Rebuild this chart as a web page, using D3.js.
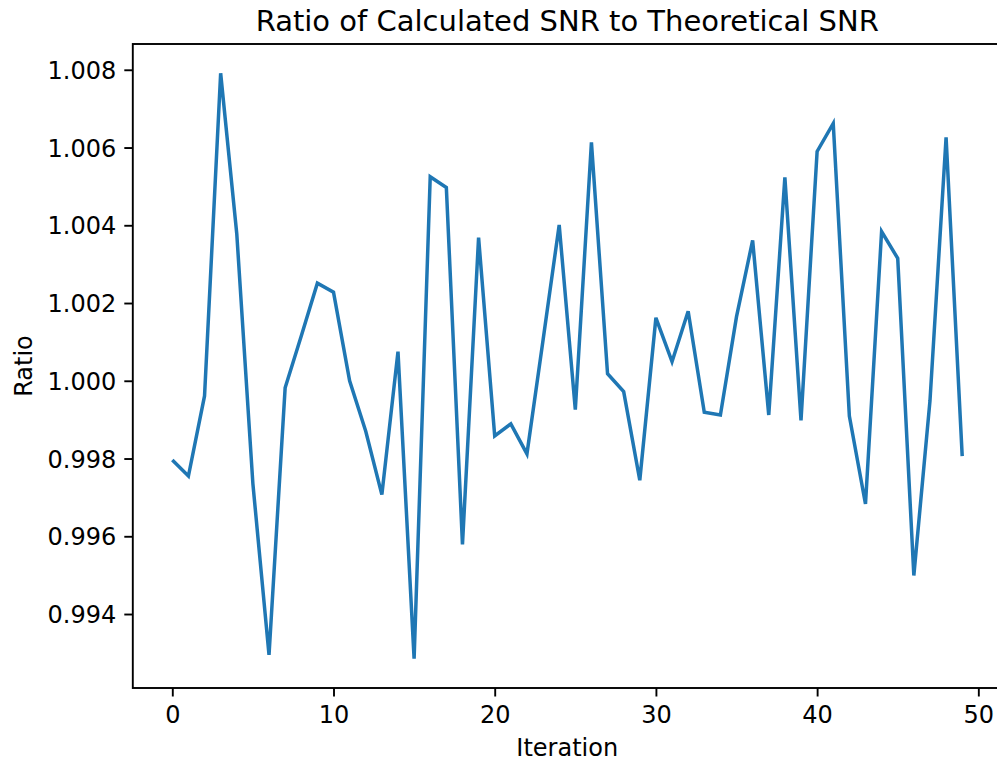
<!DOCTYPE html>
<html lang="en">
<head>
  <meta charset="UTF-8">
  <title>Ratio of Calculated SNR to Theoretical SNR</title>
  <script src="https://d3js.org/d3.v7.min.js"></script>
  <style>
    body { margin: 0; background: #fff; }
    svg { display: block; font-family: "DejaVu Sans", sans-serif; }
  </style>
</head>
<body>
  <div id="chart"></div>

  <script>
    // Data
    const iterations = d3.range(50);
    const ratios = [
      0.99796, 0.99755, 0.99961, 1.00791, 1.00378, 0.99735, 0.99295, 0.99982, 1.00115, 1.00251,
      1.00228, 1.00000, 0.99870, 0.99707, 1.00075, 0.99285, 1.00525, 1.00497, 0.99579, 1.00368,
      0.99858, 0.99889, 0.99812, 1.00105, 1.00401, 0.99926, 1.00613, 1.00018, 0.99972, 0.99744,
      1.00162, 1.00049, 1.00179, 0.99919, 0.99912, 1.00165, 1.00361, 0.99912, 1.00523, 0.99898,
      1.00590, 1.00662, 0.99909, 0.99683, 1.00384, 1.00315, 0.99499, 0.99948, 1.00626, 0.99806
    ];
    const xTicks = [0, 10, 20, 30, 40, 50];
    const yTicks = [0.994, 0.996, 0.998, 1.000, 1.002, 1.004, 1.006, 1.008];

    const title = "Ratio of Calculated SNR to Theoretical SNR";
    const xLabel = "Iteration";
    const yLabel = "Ratio";

    // Canvas and plot box (right edge runs past the window, as in the reference)
    const W = 997, H = 763;
    const box = {left: 132.8, right: 1001.7, top: 44, bottom: 688};

    const svg = d3.select("#chart").append("svg")
      .attr("width", W)
      .attr("height", H);

    // matplotlib style 5% margins
    const xPad = (d3.max(iterations) - d3.min(iterations)) * 0.05;
    const [yMin, yMax] = d3.extent(ratios);
    const yPad = (yMax - yMin) * 0.05;

    const x = d3.scaleLinear()
      .domain([d3.min(iterations) - xPad, d3.max(iterations) + xPad])
      .range([box.left, box.right]);

    const y = d3.scaleLinear()
      .domain([yMin - yPad, yMax + yPad])
      .range([box.bottom, box.top]);

    // Axes
    const xAxis = d3.axisBottom(x)
      .tickValues(xTicks)
      .tickSize(8.5)
      .tickPadding(8)
      .tickFormat(d3.format("d"));

    const yAxis = d3.axisLeft(y)
      .tickValues(yTicks)
      .tickSize(8.5)
      .tickPadding(8)
      .tickFormat(d3.format(".3f"));

    const gx = svg.append("g")
      .attr("transform", `translate(0,${box.bottom})`)
      .call(xAxis);

    const gy = svg.append("g")
      .attr("transform", `translate(${box.left},0)`)
      .call(yAxis);

    [gx, gy].forEach(g => {
      g.select(".domain").remove();
      g.selectAll(".tick line").attr("stroke", "#000").attr("stroke-width", 1.9);
      g.selectAll(".tick text")
        .attr("fill", "#000")
        .style("font-size", "24px")
        .style("font-family", "DejaVu Sans, sans-serif");
    });
    gx.selectAll(".tick text").attr("dy", "0.76em");
    gy.selectAll(".tick text").attr("dy", "0.36em");

    // Line
    const line = d3.line()
      .x((d, i) => x(iterations[i]))
      .y(d => y(d));

    svg.append("path")
      .datum(ratios)
      .attr("d", line)
      .attr("fill", "none")
      .attr("stroke", "#1f77b4")
      .attr("stroke-width", 3.5)
      .attr("stroke-linejoin", "miter")
      .attr("stroke-linecap", "butt");

    // Spines
    svg.append("rect")
      .attr("x", box.left)
      .attr("y", box.top)
      .attr("width", box.right - box.left)
      .attr("height", box.bottom - box.top)
      .attr("fill", "none")
      .attr("stroke", "#000")
      .attr("stroke-width", 1.9);

    // Title and axis labels
    const midX = (box.left + box.right) / 2;

    svg.append("text")
      .attr("x", midX)
      .attr("y", 31)
      .attr("text-anchor", "middle")
      .style("font-size", "29px")
      .text(title);

    svg.append("text")
      .attr("x", midX)
      .attr("y", 756)
      .attr("text-anchor", "middle")
      .style("font-size", "24px")
      .text(xLabel);

    svg.append("text")
      .attr("transform", `translate(32,${(box.top + box.bottom) / 2}) rotate(-90)`)
      .attr("text-anchor", "middle")
      .style("font-size", "24px")
      .text(yLabel);
  </script>
</body>
</html>
